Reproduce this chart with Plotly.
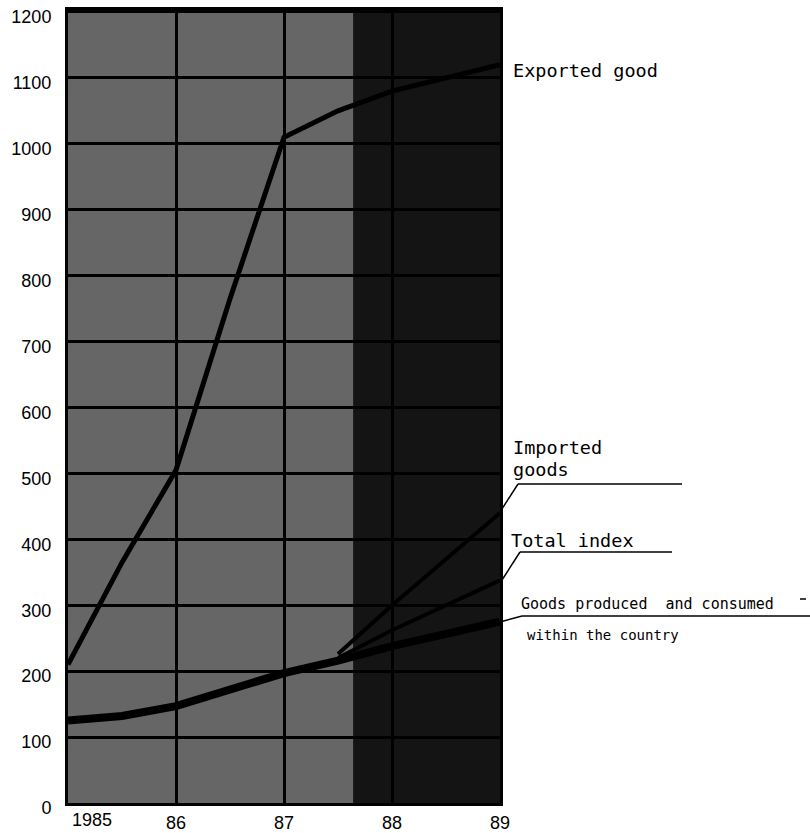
import plotly.graph_objects as go

# ---- data ----
years = [1985, 1985.5, 1986, 1986.5, 1987, 1987.5, 1988, 1989]
exported_goods = [210, 365, 505, 765, 1010, 1050, 1080, 1120]
domestic_goods = [125, 132, 147, 172, 197, 216, 238, 275]
late_years = [1987.5, 1988, 1989]
total_index = [220, 262, 338]
imported_goods = [226, 300, 440]

x_tickvals = [1985, 1986, 1987, 1988, 1989]
x_ticktext = ["", "86", "87", "88", "89"]
y_tickvals = list(range(0, 1201, 100))
dark_band_start = 1987.64

# ---- layout geometry (pixels) ----
W, H = 810, 833
L, R, T, B = 68, 310, 10, 30
PW, PH = W - L - R, H - T - B


def px(x):
    return (x - L) / PW


def py(y):
    return (H - B - y) / PH


fig = go.Figure()

fig.add_trace(go.Scatter(x=years, y=domestic_goods, mode="lines",
                         line=dict(color="black", width=8), showlegend=False))
fig.add_trace(go.Scatter(x=late_years, y=total_index, mode="lines",
                         line=dict(color="black", width=4), showlegend=False))
fig.add_trace(go.Scatter(x=late_years, y=imported_goods, mode="lines",
                         line=dict(color="black", width=4), showlegend=False))
fig.add_trace(go.Scatter(x=years, y=exported_goods, mode="lines",
                         line=dict(color="black", width=5), showlegend=False))

shapes = [
    dict(type="rect", xref="x", yref="paper", x0=dark_band_start, x1=1989,
         y0=0, y1=1, fillcolor="#141414", line=dict(width=0), layer="below"),
]


def seg(x0, y0, x1, y1, w=1.5):
    shapes.append(dict(type="line", xref="paper", yref="paper",
                       x0=px(x0), y0=py(y0), x1=px(x1), y1=py(y1),
                       line=dict(color="black", width=w)))


# leader lines + underlines
seg(500, 512, 518, 484); seg(518, 484, 682, 484)
seg(502, 580, 520, 552); seg(520, 552, 672, 552)
seg(500, 622, 522, 616); seg(522, 616, 810, 616)
seg(800, 599, 806, 599)

annotations = []


def label(x, y, text, size=18, anchor="left"):
    annotations.append(dict(xref="paper", yref="paper", x=px(x), y=py(y),
                            text=text, showarrow=False, xanchor=anchor,
                            yanchor="middle",
                            font=dict(family="DejaVu Sans Mono", size=size,
                                      color="black")))


label(511, 70, "Exported good", size=18.5)
label(511, 447, "Imported", size=18.5)
label(511, 470, "goods", size=18.5)
label(509, 540, "Total index", size=18.5)
label(519, 604, "Goods produced  and consumed", size=15)
label(525, 635, "within the country", size=14)

annotations.append(dict(xref="paper", yref="paper", x=px(92), y=py(820),
                        text="1985", showarrow=False, xanchor="center",
                        yanchor="middle",
                        font=dict(family="Liberation Sans", size=18,
                                  color="black")))

fig.update_layout(
    width=W, height=H,
    margin=dict(l=L, r=R, t=T, b=B, autoexpand=False),
    paper_bgcolor="white",
    plot_bgcolor="#666666",
    shapes=shapes,
    annotations=annotations,
    showlegend=False,
)

fig.update_xaxes(range=[1985, 1989], tickvals=x_tickvals, ticktext=x_ticktext,
                 showgrid=True, gridcolor="black", gridwidth=3,
                 showline=True, linecolor="black", linewidth=3, mirror=True,
                 zeroline=False, ticks="", automargin=False,
                 tickfont=dict(family="Liberation Sans", size=18, color="black"),
                 ticklabelstandoff=1)
fig.update_yaxes(range=[0, 1203], tickvals=y_tickvals,
                 showgrid=True, gridcolor="black", gridwidth=3,
                 showline=True, linecolor="black", linewidth=3, mirror=True,
                 zeroline=False, ticks="", automargin=False,
                 tickfont=dict(family="Liberation Sans", size=18, color="black"),
                 ticklabelstandoff=10, ticklabelshift=5)

fig.write_html("out.html", config={"displayModeBar": False},
               post_script="document.body.style.margin='0';")
